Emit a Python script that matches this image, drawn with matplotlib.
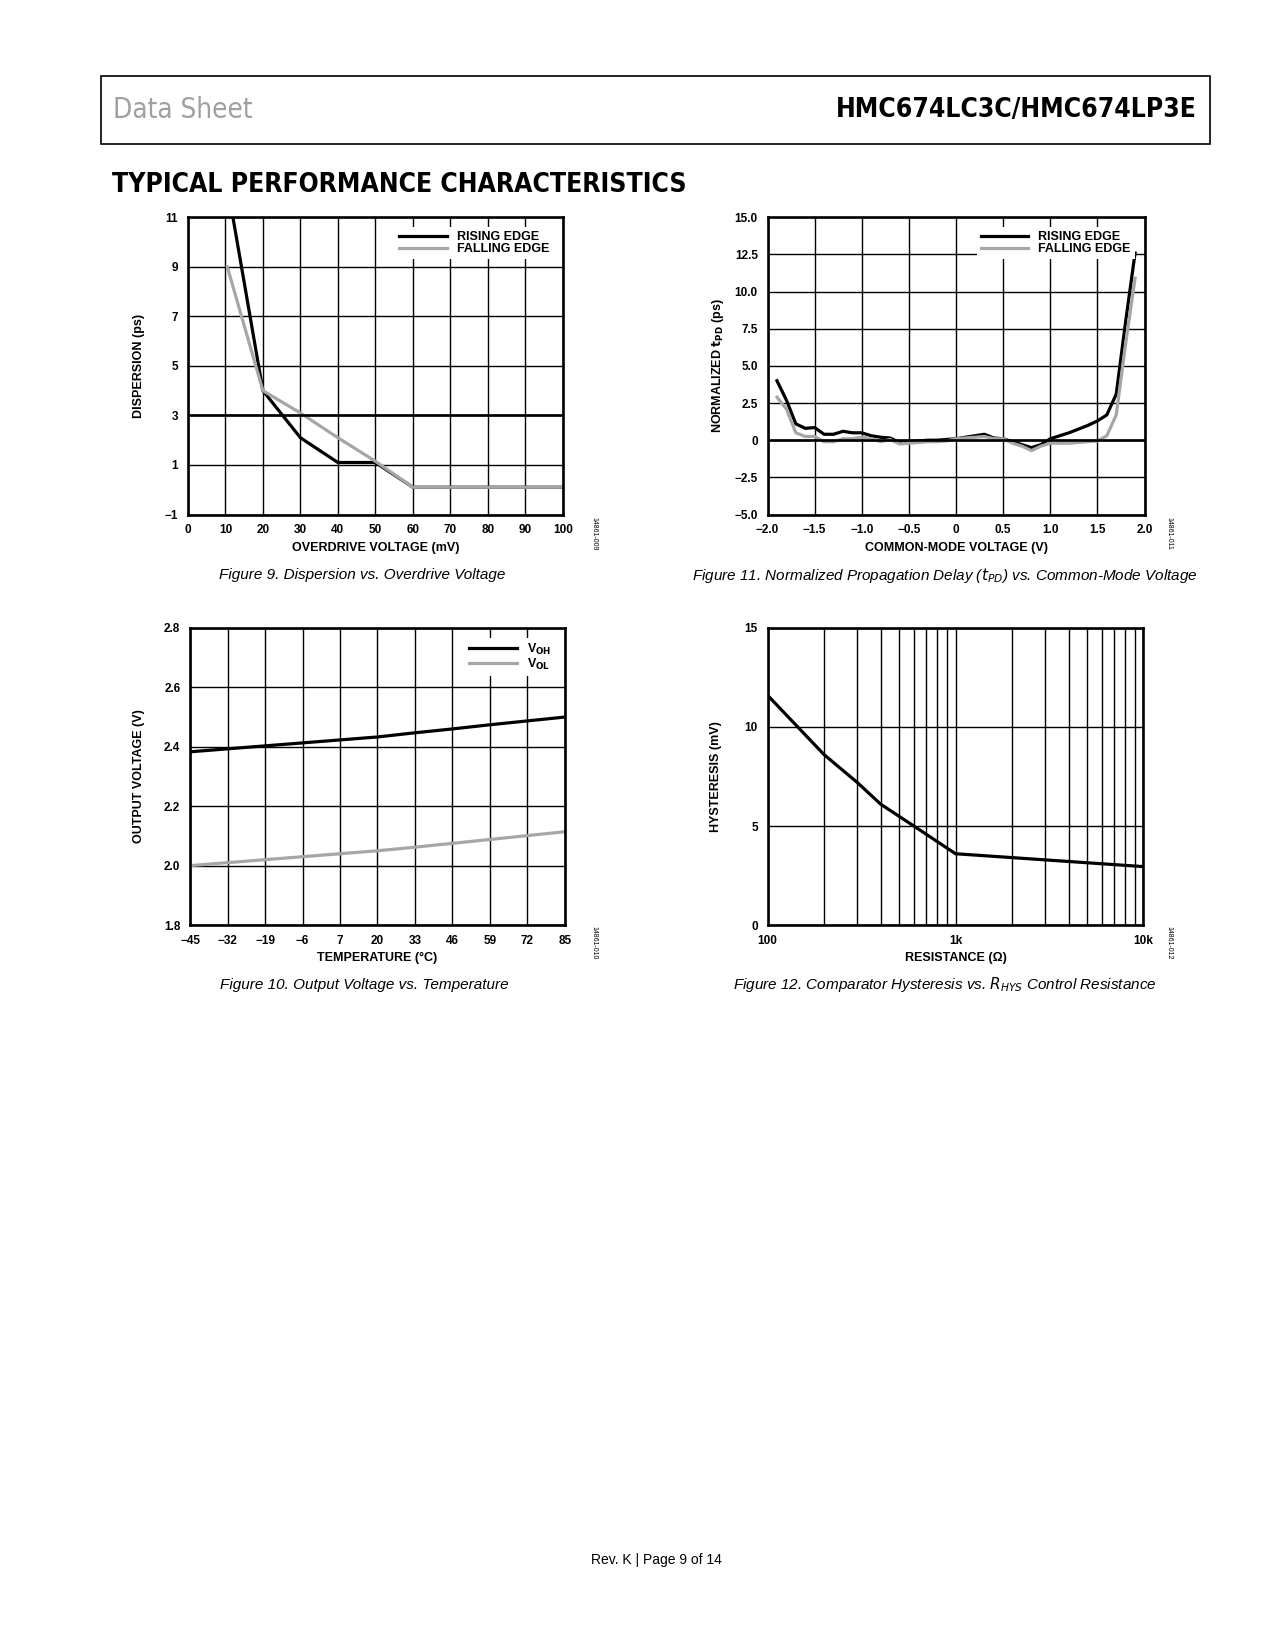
import matplotlib
matplotlib.use("Agg")
import matplotlib.pyplot as plt
from matplotlib.ticker import FixedLocator, NullFormatter

W, H = 1275, 1650
S = 1.05
plt.rcParams['font.family'] = ['Liberation Sans', 'DejaVu Sans']

# Figure 9 data
f9_x_rise = [12, 20, 30, 40, 50, 60, 100]
f9_y_rise = [11, 4.0, 2.1, 1.1, 1.1, 0.1, 0.1]
f9_x_fall = [10.5, 20, 30, 40, 50, 60, 100]
f9_y_fall = [9.0, 4.0, 3.1, 2.1, 1.15, 0.1, 0.1]

# Figure 11 data
f11_x = [-1.9, -1.8, -1.7, -1.6, -1.5, -1.4, -1.3, -1.2, -1.1, -1.0, -0.9, -0.8, -0.7, -0.6, -0.5,
         -0.4, -0.3, -0.2, -0.1, 0.0, 0.1, 0.2, 0.3, 0.4, 0.5, 0.6, 0.7, 0.8, 0.9, 1.0, 1.1, 1.2,
         1.3, 1.4, 1.5, 1.6, 1.7, 1.8, 1.9]
f11_rise = [4.0, 2.7, 1.1, 0.8, 0.85, 0.4, 0.4, 0.6, 0.5, 0.5, 0.3, 0.2, 0.15, -0.15, -0.1,
            -0.05, 0.0, 0.0, 0.05, 0.1, 0.2, 0.3, 0.4, 0.15, 0.1, -0.1, -0.3, -0.5, -0.3, 0.1, 0.3, 0.5,
            0.75, 1.0, 1.3, 1.7, 3.1, 8.0, 12.6]
f11_fall = [2.9, 2.1, 0.5, 0.25, 0.25, -0.1, -0.1, 0.1, 0.1, 0.2, 0.1, -0.1, 0.05, -0.25, -0.2,
            -0.15, -0.1, -0.1, -0.05, 0.1, 0.15, 0.2, 0.25, 0.1, 0.1, -0.2, -0.4, -0.7, -0.4, -0.2, -0.2, -0.2,
            -0.15, -0.1, -0.05, 0.3, 1.7, 6.5, 10.9]

# Figure 10 data
f10_x = [-45, -32, -19, -6, 7, 20, 33, 46, 59, 72, 85]
f10_voh = [2.383, 2.393, 2.403, 2.413, 2.423, 2.433, 2.447, 2.460, 2.474, 2.487, 2.500]
f10_vol = [2.000, 2.010, 2.020, 2.030, 2.040, 2.050, 2.062, 2.075, 2.088, 2.101, 2.114]

# Figure 12 data
f12_x = [100, 200, 300, 400, 600, 1000, 10000]
f12_y = [11.6, 8.6, 7.2, 6.1, 5.0, 3.6, 2.95]

fig = plt.figure(figsize=(W/100, H/100), dpi=100)

def fx(x): return x*S/W
def fy(y): return 1 - y*S/H

def ax_at(l, r, t, b):
    return fig.add_axes([fx(l), fy(b), (r-l)*S/W, (b-t)*S/H])

def style(ax):
    for s in ax.spines.values():
        s.set_linewidth(1.9)
    ax.tick_params(direction='in', length=0, labelsize=8.5, pad=7)
    for lab in ax.get_xticklabels()+ax.get_yticklabels():
        lab.set_fontweight('bold')
    ax.grid(True, color='black', linewidth=1.0)
    ax.set_axisbelow(True)

def minus(v, fmt):
    return fmt.format(v).replace('-', '\u2212')

BLACK = '#000000'
GREY = '#a6a6a6'
lbl = dict(fontsize=9, fontweight='bold')
cap = dict(fontsize=11, style='italic', ha='center', va='center')
COND = dict(family='DejaVu Sans', fontstretch='condensed')

def legend(ax):
    leg = ax.legend(loc='upper right', fontsize=9, frameon=True, fancybox=False, edgecolor='none',
                    framealpha=1, borderpad=0.3, handlelength=3.8, labelspacing=0.0,
                    borderaxespad=0.8)
    for t in leg.get_texts():
        t.set_fontweight('bold')

# Header
fig.patches.append(plt.Rectangle((fx(96), fy(137)), (1152-96)*S/W, 65*S/H, transform=fig.transFigure,
                                 fill=False, edgecolor='black', linewidth=1.2))
fig.text(fx(108), fy(105), 'Data Sheet', fontsize=20, color='#a0a0a0', va='center', **COND)
fig.text(fx(1140), fy(105), 'HMC674LC3C/HMC674LP3E', fontsize=19, fontweight='bold', ha='right',
         va='center', **COND)
fig.text(fx(107), fy(176), 'TYPICAL PERFORMANCE CHARACTERISTICS', fontsize=19, fontweight='bold',
         va='center', **COND)

# Fig 9
ax = ax_at(179, 536, 207, 490)
ax.plot(f9_x_rise, f9_y_rise, color=BLACK, lw=2.3, label='RISING EDGE')
ax.plot(f9_x_fall, f9_y_fall, color=GREY, lw=2.3, label='FALLING EDGE')
ax.set_xlim(0, 100); ax.set_ylim(-1, 11)
ax.set_xticks(range(0, 101, 10)); ax.set_yticks([-1, 1, 3, 5, 7, 9, 11])
ax.set_yticklabels([minus(v, '{:d}') for v in [-1, 1, 3, 5, 7, 9, 11]])
ax.axhline(3, color='black', lw=1.9)
style(ax)
ax.set_xlabel('OVERDRIVE VOLTAGE (mV)', **lbl, labelpad=4)
ax.set_ylabel('DISPERSION (ps)', **lbl, labelpad=14)
legend(ax)
fig.text(fx(566), fy(508), '14861-009', fontsize=5, rotation=270, ha='center', va='center')
fig.text(fx(345), fy(548), 'Figure 9. Dispersion vs. Overdrive Voltage', **cap)

# Fig 11
ax = ax_at(731, 1090, 207, 490)
ax.plot(f11_x, f11_rise, color=BLACK, lw=2.3, label='RISING EDGE')
ax.plot(f11_x, f11_fall, color=GREY, lw=2.3, label='FALLING EDGE')
ax.set_xlim(-2, 2); ax.set_ylim(-5, 15)
xt = [-2, -1.5, -1, -0.5, 0, 0.5, 1, 1.5, 2]
ax.set_xticks(xt)
ax.set_xticklabels(['0' if v == 0 else minus(v, '{:.1f}') for v in xt])
yt = [-5, -2.5, 0, 2.5, 5, 7.5, 10, 12.5, 15]
ax.set_yticks(yt)
ax.set_yticklabels(['0' if v == 0 else minus(v, '{:.1f}') for v in yt])
ax.axhline(0, color='black', lw=1.9)
style(ax)
ax.set_xlabel('COMMON-MODE VOLTAGE (V)', **lbl, labelpad=4)
ax.set_ylabel(r'NORMALIZED $\mathbf{t_{PD}}$ (ps)', **lbl, labelpad=6)
legend(ax)
fig.text(fx(1113), fy(508), '14861-011', fontsize=5, rotation=270, ha='center', va='center')
fig.text(fx(900), fy(548), 'Figure 11. Normalized Propagation Delay ($t_{PD}$) vs. Common-Mode Voltage', **cap)

# Fig 10
ax = ax_at(181, 538, 598, 881)
ax.plot(f10_x, f10_voh, color=BLACK, lw=2.3, label=r'V$_{\mathbf{OH}}$')
ax.plot(f10_x, f10_vol, color=GREY, lw=2.3, label=r'V$_{\mathbf{OL}}$')
ax.set_xlim(-45, 85); ax.set_ylim(1.8, 2.8)
ax.set_xticks(f10_x)
ax.set_xticklabels([minus(v, '{:d}') for v in f10_x])
yt = [1.8, 2.0, 2.2, 2.4, 2.6, 2.8]
ax.set_yticks(yt); ax.set_yticklabels(['{:.1f}'.format(v) for v in yt])
style(ax)
ax.set_xlabel('TEMPERATURE (°C)', **lbl, labelpad=4)
ax.set_ylabel('OUTPUT VOLTAGE (V)', **lbl, labelpad=14)
legend(ax)
fig.text(fx(566), fy(898), '14861-010', fontsize=5, rotation=270, ha='center', va='center')
fig.text(fx(347), fy(938), 'Figure 10. Output Voltage vs. Temperature', **cap)

# Fig 12
ax = ax_at(731, 1089, 598, 881)
ax.set_xscale('log')
ax.plot(f12_x, f12_y, color=BLACK, lw=2.3)
ax.set_xlim(100, 10000); ax.set_ylim(0, 15)
ax.set_xticks([100, 1000, 10000]); ax.set_xticklabels(['100', '1k', '10k'])
ax.xaxis.set_minor_locator(FixedLocator([m*d for d in (100, 1000) for m in range(2, 10)]))
ax.xaxis.set_minor_formatter(NullFormatter())
ax.set_yticks([0, 5, 10, 15])
style(ax)
ax.grid(True, which='minor', axis='x', color='black', linewidth=1.0)
ax.tick_params(which='minor', length=0)
ax.set_xlabel('RESISTANCE (Ω)', **lbl, labelpad=4)
ax.set_ylabel('HYSTERESIS (mV)', **lbl, labelpad=16)
fig.text(fx(1113), fy(898), '14861-012', fontsize=5, rotation=270, ha='center', va='center')
fig.text(fx(900), fy(938), 'Figure 12. Comparator Hysteresis vs. $R_{HYS}$ Control Resistance', **cap)

fig.text(fx(625), fy(1486), 'Rev. K | Page 9 of 14', fontsize=10, ha='center', va='center')

fig.savefig('out.png', dpi=100)
